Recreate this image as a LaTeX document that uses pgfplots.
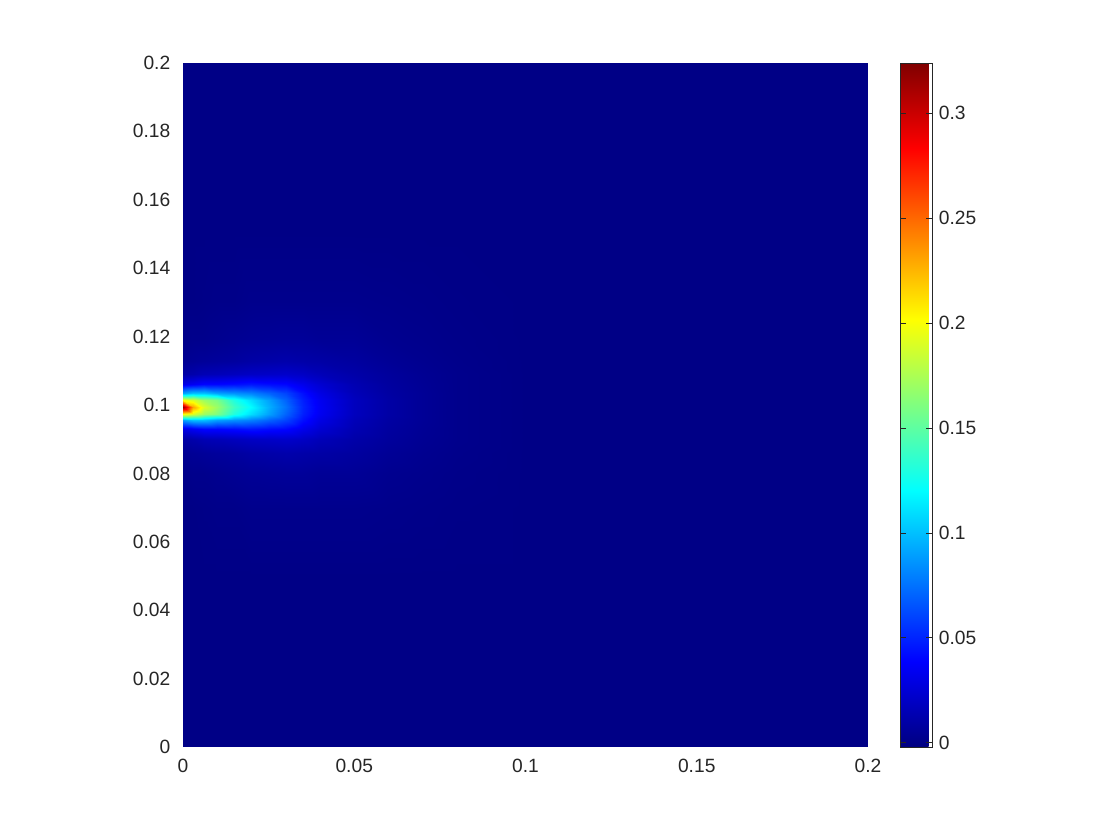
\documentclass[border=0pt]{standalone}
\usepackage{fontspec}
\setmainfont{Liberation Sans}
\usepackage{pgfplots}
\pgfplotsset{compat=1.18}
\definecolor{lbl}{RGB}{38,38,38}
\begin{document}
\fontsize{9.6}{11}\selectfont
\begin{tikzpicture}
\begin{axis}[
    view={0}{90},
    scale only axis,
    width=342.5pt, height=342pt,
    xmin=0, xmax=0.2, ymin=0, ymax=0.2,
    enlargelimits=false,
    colormap/jet,
    point meta min=-0.002, point meta max=0.324,
    xtick={0,0.05,0.1,0.15,0.2},
    xticklabels={0,0.05,0.1,0.15,0.2},
    ytick={0,0.02,0.04,0.06,0.08,0.1,0.12,0.14,0.16,0.18,0.2},
    yticklabels={0,0.02,0.04,0.06,0.08,0.1,0.12,0.14,0.16,0.18,0.2},
    ztick=\empty,
    axis line style={draw=none},
    tick style={draw=none},
    tick label style={font=\fontsize{9.6}{11}\selectfont, text=lbl},
    xticklabel style={yshift=-2.5pt},
    yticklabel style={xshift=-3pt},
    colorbar,
    colorbar style={
        at={(parent axis.north east)}, anchor=north west,
        xshift=7.5pt, width=16pt,
        ytick={0,0.05,0.1,0.15,0.2,0.25,0.3},
        yticklabels={0,0.05,0.1,0.15,0.2,0.25,0.3},
        yticklabel style={font=\fontsize{9.6}{11}\selectfont, text=lbl, xshift=0pt},
        axis line style={draw=lbl, line width=0.4pt},
        tick style={draw=lbl, line width=0.4pt},
        major tick length=3pt,
    },
]
\addplot3[surf, shader=interp, mesh/ordering=y varies, mesh/rows=19] coordinates {
(0,0,0) (0,0.05,0) (0,0.07,0) (0,0.08,0.001) (0,0.086,0.004) (0,0.09,0.01) (0,0.093,0.03) (0,0.0955,0.09) (0,0.0975,0.2) (0,0.0995,0.32) (0,0.1015,0.2) (0,0.1035,0.09) (0,0.106,0.03) (0,0.109,0.01) (0,0.113,0.004) (0,0.119,0.001) (0,0.13,0) (0,0.15,0) (0,0.2,0)
(0.003,0,0) (0.003,0.05,0) (0.003,0.07,0) (0.003,0.08,0.002) (0.003,0.086,0.005) (0.003,0.09,0.012) (0.003,0.093,0.035) (0.003,0.0955,0.1) (0.003,0.0975,0.19) (0.003,0.0995,0.23) (0.003,0.1015,0.19) (0.003,0.1035,0.1) (0.003,0.106,0.035) (0.003,0.109,0.012) (0.003,0.113,0.005) (0.003,0.119,0.002) (0.003,0.13,0) (0.003,0.15,0) (0.003,0.2,0)
(0.006,0,0) (0.006,0.05,0) (0.006,0.07,0.0005) (0.006,0.08,0.002) (0.006,0.086,0.006) (0.006,0.09,0.015) (0.006,0.093,0.04) (0.006,0.0955,0.1) (0.006,0.0975,0.17) (0.006,0.0995,0.19) (0.006,0.1015,0.17) (0.006,0.1035,0.1) (0.006,0.106,0.04) (0.006,0.109,0.015) (0.006,0.113,0.006) (0.006,0.119,0.002) (0.006,0.13,0.0005) (0.006,0.15,0) (0.006,0.2,0)
(0.01,0,0) (0.01,0.05,0) (0.01,0.07,0.001) (0.01,0.08,0.003) (0.01,0.086,0.007) (0.01,0.09,0.016) (0.01,0.093,0.04) (0.01,0.0955,0.09) (0.01,0.0975,0.16) (0.01,0.0995,0.17) (0.01,0.1015,0.16) (0.01,0.1035,0.09) (0.01,0.106,0.04) (0.01,0.109,0.016) (0.01,0.113,0.007) (0.01,0.119,0.003) (0.01,0.13,0.001) (0.01,0.15,0) (0.01,0.2,0)
(0.015,0,0) (0.015,0.05,0) (0.015,0.07,0.001) (0.015,0.08,0.004) (0.015,0.086,0.008) (0.015,0.09,0.018) (0.015,0.093,0.042) (0.015,0.0955,0.085) (0.015,0.0975,0.13) (0.015,0.0995,0.14) (0.015,0.1015,0.13) (0.015,0.1035,0.085) (0.015,0.106,0.042) (0.015,0.109,0.018) (0.015,0.113,0.008) (0.015,0.119,0.004) (0.015,0.13,0.001) (0.015,0.15,0) (0.015,0.2,0)
(0.02,0,0) (0.02,0.05,0) (0.02,0.07,0.002) (0.02,0.08,0.005) (0.02,0.086,0.01) (0.02,0.09,0.02) (0.02,0.093,0.045) (0.02,0.0955,0.08) (0.02,0.0975,0.11) (0.02,0.0995,0.12) (0.02,0.1015,0.11) (0.02,0.1035,0.08) (0.02,0.106,0.045) (0.02,0.109,0.02) (0.02,0.113,0.01) (0.02,0.119,0.005) (0.02,0.13,0.002) (0.02,0.15,0) (0.02,0.2,0)
(0.025,0,0) (0.025,0.05,0) (0.025,0.07,0.002) (0.025,0.08,0.0055) (0.025,0.086,0.011) (0.025,0.09,0.021) (0.025,0.093,0.042) (0.025,0.0955,0.07) (0.025,0.0975,0.09) (0.025,0.0995,0.095) (0.025,0.1015,0.09) (0.025,0.1035,0.07) (0.025,0.106,0.042) (0.025,0.109,0.021) (0.025,0.113,0.011) (0.025,0.119,0.0055) (0.025,0.13,0.002) (0.025,0.15,0) (0.025,0.2,0)
(0.03,0,0) (0.03,0.05,0) (0.03,0.07,0.002) (0.03,0.08,0.006) (0.03,0.086,0.012) (0.03,0.09,0.022) (0.03,0.093,0.04) (0.03,0.0955,0.06) (0.03,0.0975,0.07) (0.03,0.0995,0.075) (0.03,0.1015,0.07) (0.03,0.1035,0.06) (0.03,0.106,0.04) (0.03,0.109,0.022) (0.03,0.113,0.012) (0.03,0.119,0.006) (0.03,0.13,0.002) (0.03,0.15,0) (0.03,0.2,0)
(0.035,0,0) (0.035,0.05,0) (0.035,0.07,0.002) (0.035,0.08,0.006) (0.035,0.086,0.011) (0.035,0.09,0.02) (0.035,0.093,0.032) (0.035,0.0955,0.043) (0.035,0.0975,0.048) (0.035,0.0995,0.05) (0.035,0.1015,0.048) (0.035,0.1035,0.043) (0.035,0.106,0.032) (0.035,0.109,0.02) (0.035,0.113,0.011) (0.035,0.119,0.006) (0.035,0.13,0.002) (0.035,0.15,0) (0.035,0.2,0)
(0.04,0,0) (0.04,0.05,0) (0.04,0.07,0.002) (0.04,0.08,0.005) (0.04,0.086,0.01) (0.04,0.09,0.016) (0.04,0.093,0.024) (0.04,0.0955,0.03) (0.04,0.0975,0.034) (0.04,0.0995,0.035) (0.04,0.1015,0.034) (0.04,0.1035,0.03) (0.04,0.106,0.024) (0.04,0.109,0.016) (0.04,0.113,0.01) (0.04,0.119,0.005) (0.04,0.13,0.002) (0.04,0.15,0) (0.04,0.2,0)
(0.05,0,0) (0.05,0.05,0) (0.05,0.07,0.002) (0.05,0.08,0.005) (0.05,0.086,0.008) (0.05,0.09,0.011) (0.05,0.093,0.014) (0.05,0.0955,0.016) (0.05,0.0975,0.018) (0.05,0.0995,0.018) (0.05,0.1015,0.018) (0.05,0.1035,0.016) (0.05,0.106,0.014) (0.05,0.109,0.011) (0.05,0.113,0.008) (0.05,0.119,0.005) (0.05,0.13,0.002) (0.05,0.15,0) (0.05,0.2,0)
(0.06,0,0) (0.06,0.05,0) (0.06,0.07,0.0015) (0.06,0.08,0.003) (0.06,0.086,0.005) (0.06,0.09,0.007) (0.06,0.093,0.008) (0.06,0.0955,0.009) (0.06,0.0975,0.01) (0.06,0.0995,0.01) (0.06,0.1015,0.01) (0.06,0.1035,0.009) (0.06,0.106,0.008) (0.06,0.109,0.007) (0.06,0.113,0.005) (0.06,0.119,0.003) (0.06,0.13,0.0015) (0.06,0.15,0) (0.06,0.2,0)
(0.07,0,0) (0.07,0.05,0) (0.07,0.07,0.001) (0.07,0.08,0.002) (0.07,0.086,0.003) (0.07,0.09,0.004) (0.07,0.093,0.0045) (0.07,0.0955,0.005) (0.07,0.0975,0.005) (0.07,0.0995,0.005) (0.07,0.1015,0.005) (0.07,0.1035,0.005) (0.07,0.106,0.0045) (0.07,0.109,0.004) (0.07,0.113,0.003) (0.07,0.119,0.002) (0.07,0.13,0.001) (0.07,0.15,0) (0.07,0.2,0)
(0.08,0,0) (0.08,0.05,0) (0.08,0.07,0.0005) (0.08,0.08,0.001) (0.08,0.086,0.0015) (0.08,0.09,0.002) (0.08,0.093,0.002) (0.08,0.0955,0.002) (0.08,0.0975,0.002) (0.08,0.0995,0.002) (0.08,0.1015,0.002) (0.08,0.1035,0.002) (0.08,0.106,0.002) (0.08,0.109,0.002) (0.08,0.113,0.0015) (0.08,0.119,0.001) (0.08,0.13,0.0005) (0.08,0.15,0) (0.08,0.2,0)
(0.1,0,0) (0.1,0.05,0) (0.1,0.07,0) (0.1,0.08,0) (0.1,0.086,0) (0.1,0.09,0) (0.1,0.093,0) (0.1,0.0955,0) (0.1,0.0975,0) (0.1,0.0995,0) (0.1,0.1015,0) (0.1,0.1035,0) (0.1,0.106,0) (0.1,0.109,0) (0.1,0.113,0) (0.1,0.119,0) (0.1,0.13,0) (0.1,0.15,0) (0.1,0.2,0)
(0.15,0,0) (0.15,0.05,0) (0.15,0.07,0) (0.15,0.08,0) (0.15,0.086,0) (0.15,0.09,0) (0.15,0.093,0) (0.15,0.0955,0) (0.15,0.0975,0) (0.15,0.0995,0) (0.15,0.1015,0) (0.15,0.1035,0) (0.15,0.106,0) (0.15,0.109,0) (0.15,0.113,0) (0.15,0.119,0) (0.15,0.13,0) (0.15,0.15,0) (0.15,0.2,0)
(0.2,0,0) (0.2,0.05,0) (0.2,0.07,0) (0.2,0.08,0) (0.2,0.086,0) (0.2,0.09,0) (0.2,0.093,0) (0.2,0.0955,0) (0.2,0.0975,0) (0.2,0.0995,0) (0.2,0.1015,0) (0.2,0.1035,0) (0.2,0.106,0) (0.2,0.109,0) (0.2,0.113,0) (0.2,0.119,0) (0.2,0.13,0) (0.2,0.15,0) (0.2,0.2,0)
};
\end{axis}
\pgfresetboundingbox
\path[use as bounding box] (-91.5pt,-46.5pt) rectangle (468.5pt,373.5pt);
\end{tikzpicture}
\end{document}
